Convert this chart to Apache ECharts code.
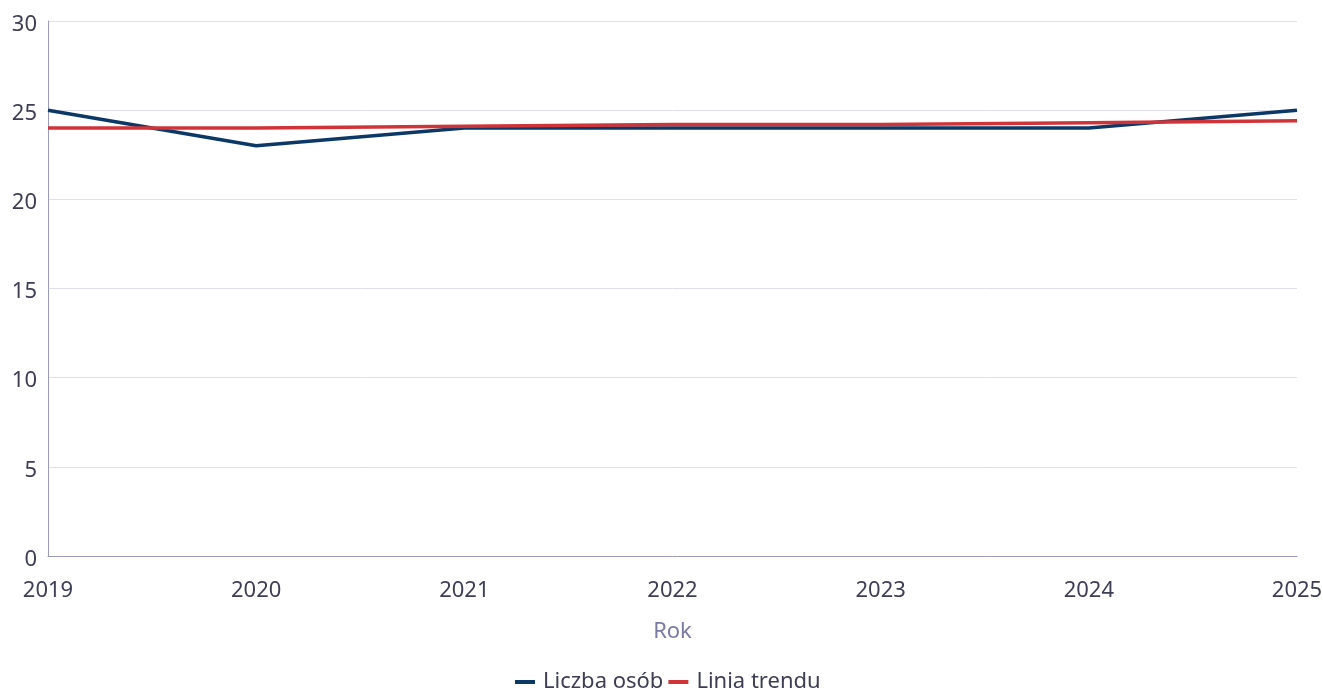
<!DOCTYPE html>
<html><head><meta charset="utf-8">
<script src="https://cdn.jsdelivr.net/npm/echarts@6/dist/echarts.min.js"></script>
<style>html,body{margin:0;padding:0;background:#fff}#c{width:1323px;height:692px}</style>
</head><body><div id="c"></div>
<script>
const years = ['2019','2020','2021','2022','2023','2024','2025'];
const liczbaOsob = [25, 23, 24, 24, 24, 24, 25];
const liniaTrendu = [24.0, 24.0, 24.1, 24.2, 24.2, 24.3, 24.4];
const yTicks = [0, 5, 10, 15, 20, 25, 30];

const chart = echarts.init(document.getElementById('c'));
const font = 'Noto Sans';
chart.setOption({
  animation: false,
  textStyle: { fontFamily: font },
  grid: { left: 48, right: 26, top: 21, bottom: 136, containLabel: false, outerBoundsMode: 'none' },
  legend: {
    left: 510, bottom: -6, itemWidth: 20, itemHeight: 4, itemGap: 5,
    icon: 'rect',
    textStyle: { fontFamily: font, fontSize: 22, color: '#3d3d55', padding: [0,0,0,3] },
    data: ['Liczba osób', 'Linia trendu']
  },
  xAxis: {
    type: 'category', data: years, boundaryGap: false,
    name: 'Rok', nameLocation: 'middle', nameGap: 65,
    nameTextStyle: { fontFamily: font, fontSize: 22, color: '#7a7aa6' },
    axisLine: { lineStyle: { color: '#9a9ac0', width: 1 } },
    axisTick: { show: false },
    axisLabel: { fontFamily: font, fontSize: 22, color: '#3d3d55', margin: 24 }
  },
  yAxis: {
    type: 'value', min: 0, max: 30, interval: 5,
    axisLine: { show: true, lineStyle: { color: '#9a9ac0', width: 1 } },
    axisTick: { show: false },
    splitLine: { lineStyle: { color: '#e0e0ea', width: 1 } },
    axisLabel: { fontFamily: font, fontSize: 22, color: '#3d3d55', margin: 11,
      formatter: v => yTicks.includes(v) ? '{a|' + v + '}' : '',
      rich: { a: { fontFamily: font, fontSize: 22, color: '#3d3d55', padding: [7,0,0,0] } } }
  },
  series: [
    { name: 'Liczba osób', type: 'line', data: liczbaOsob, showSymbol: false, symbol: 'none',
      lineStyle: { color: '#0c3868', width: 3.5 }, itemStyle: { color: '#0c3868' } },
    { name: 'Linia trendu', type: 'line', data: liniaTrendu, showSymbol: false, symbol: 'none',
      lineStyle: { color: '#d13438', width: 3.5 }, itemStyle: { color: '#d13438' } }
  ]
});
</script></body></html>
